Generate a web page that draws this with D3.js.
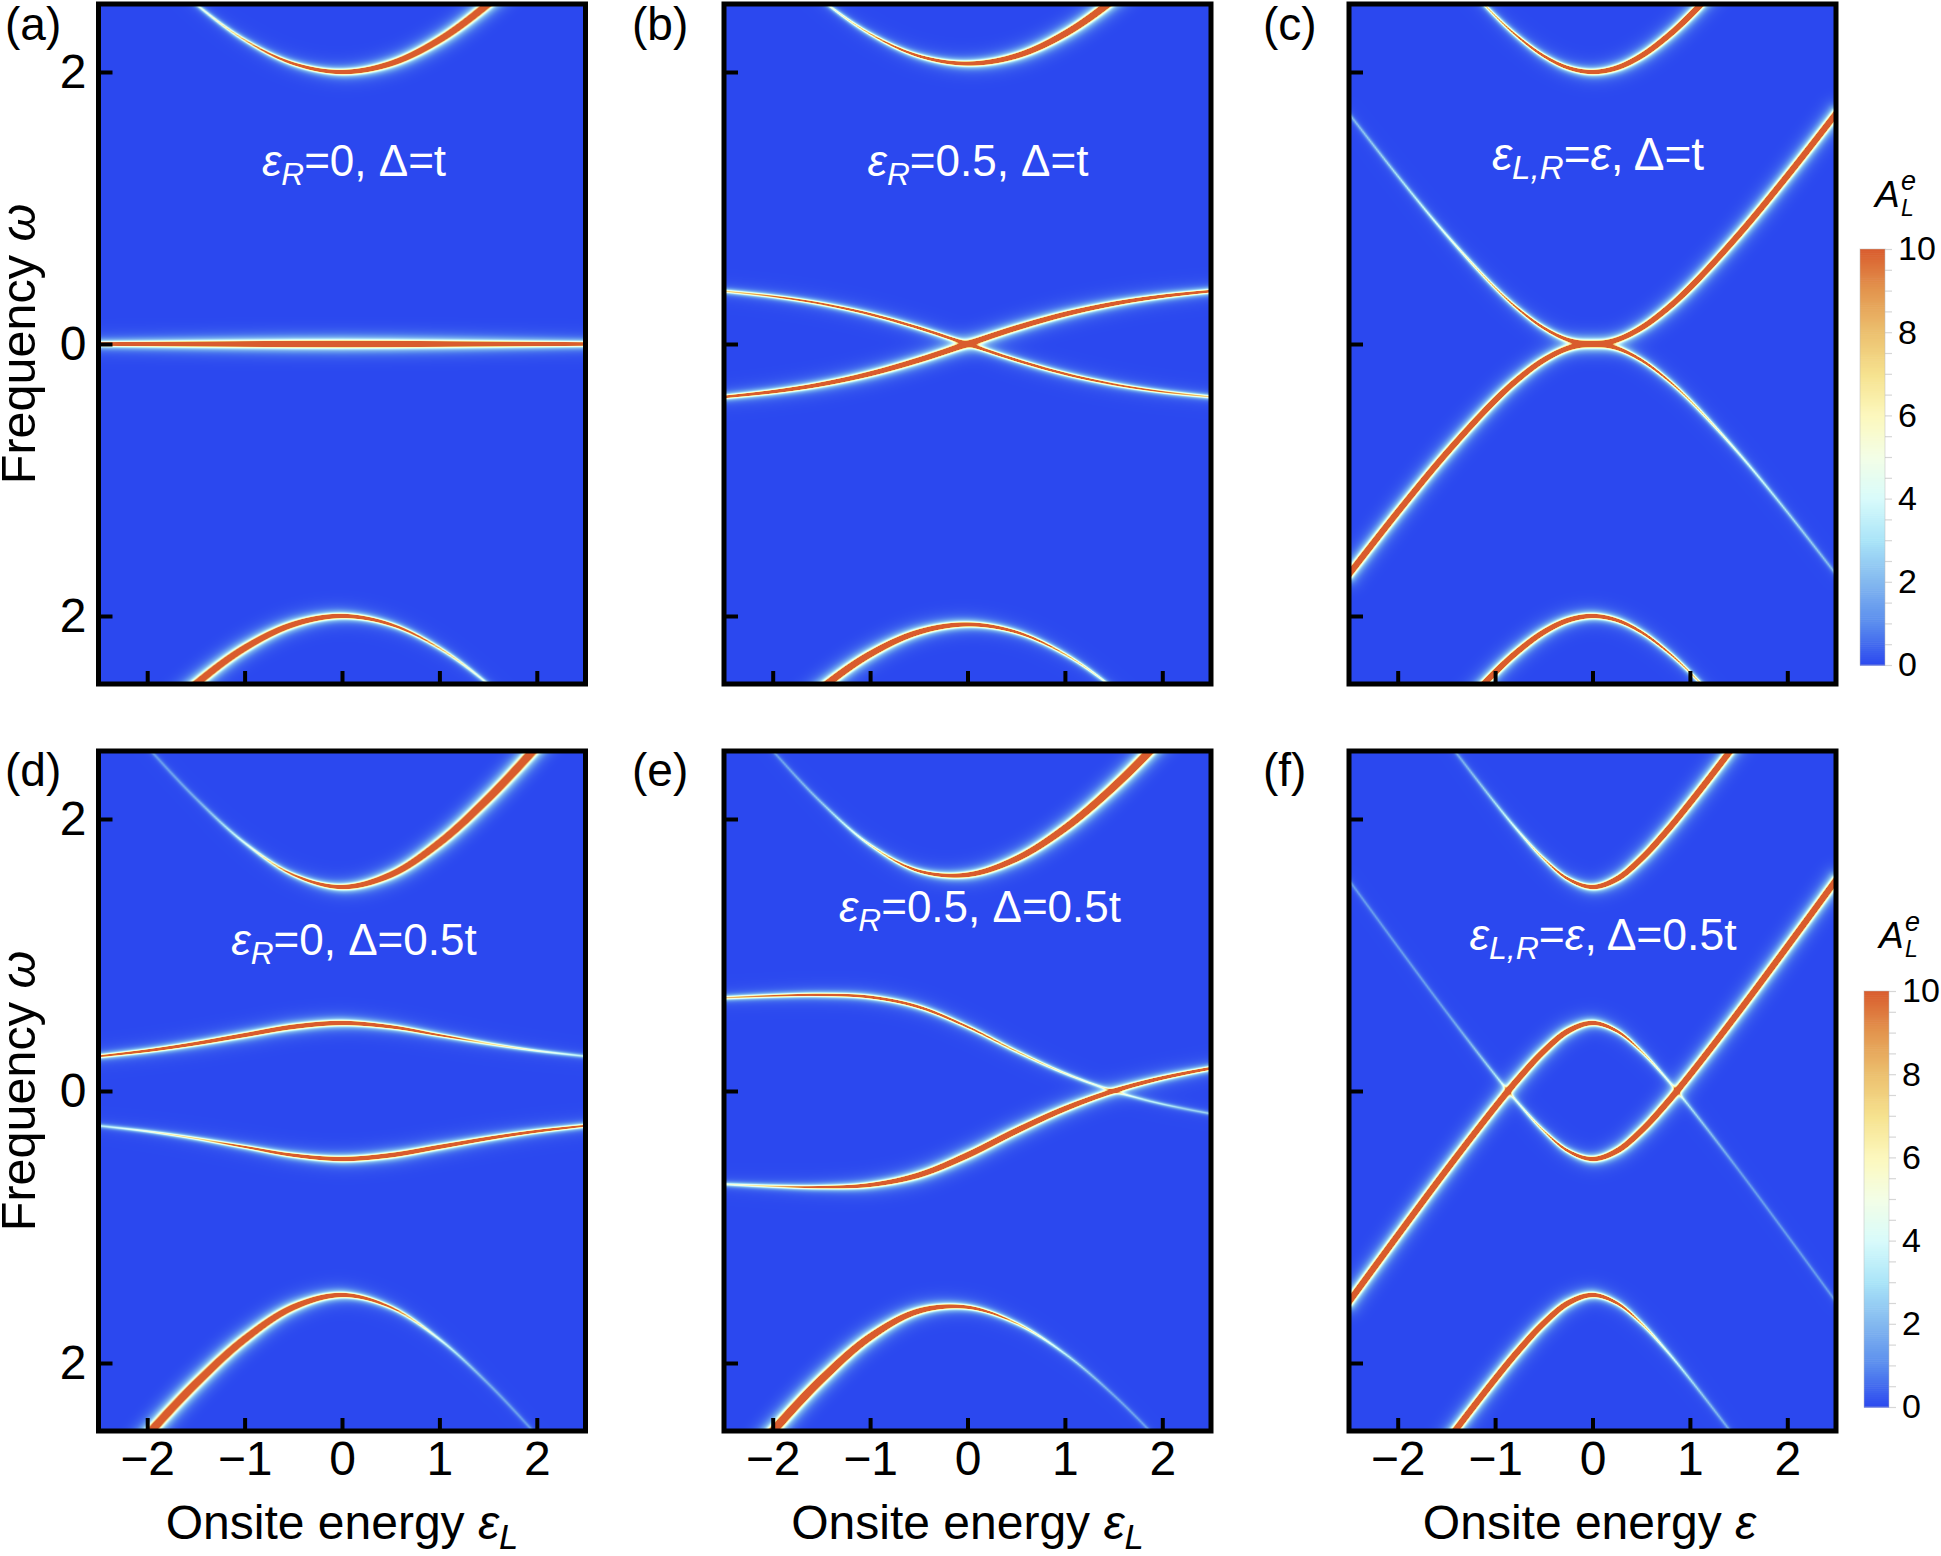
<!DOCTYPE html>
<html><head><meta charset="utf-8">
<script src="https://cdn.jsdelivr.net/npm/d3@7"></script>
<style>html,body{margin:0;padding:0;background:#fff}svg{display:block}text{font-family:"Liberation Sans",Arial,sans-serif}</style>
</head><body><svg id="chart" width="1941" height="1556"></svg>
<script>
// ---------- data ----------
const eps11 = [-2.5,-2,-1.5,-1,-0.5,0,0.5,1,1.5,2,2.5];
const eps15 = [-2.5,-2,-1.5,-1,-0.75,-0.5,-0.25,0,0.25,0.5,0.75,1,1.5,2,2.5];
// panel a
const aUpperW=[3.2,2.828,2.5,2.236,2.062,2,2.062,2.236,2.5,2.828,3.2];
const aUpperI=[.012,.0215,.04,.0764,.1434,.25,.386,.523,.64,.728,.793];
const aLowerW=[-3.2,-2.828,-2.5,-2.236,-2.062,-2,-2.062,-2.236,-2.5,-2.828,-3.2];
const aLowerI=[.793,.728,.64,.523,.386,.25,.1434,.0764,.04,.0215,.012];
const aMidW=[0,0,0,0,0,0,0,0,0,0,0];
const aMidI=[.195,.25,.32,.4,.47,.5,.47,.4,.32,.25,.195];
// panel b
const bUpperW=[3.217,2.851,2.532,2.281,2.118,2.062,2.118,2.281,2.532,2.851,3.217];
const bUpperI=[.0123,.0219,.0405,.0758,.138,.235,.362,.497,.6175,.712,.782];
const bLowerW=[-3.217,-2.851,-2.532,-2.281,-2.118,-2.062,-2.118,-2.281,-2.532,-2.851,-3.217];
const bLowerI=[.782,.712,.6175,.497,.362,.235,.138,.0758,.0405,.0219,.0123];
const bAW=[-.389,-.351,-.296,-.219,-.118,0,.118,.219,.296,.351,.389];
const bAI=[.134,.178,.236,.303,.362,.386,.362,.303,.236,.178,.134];
const bBW=[.389,.351,.296,.219,.118,0,-.118,-.219,-.296,-.351,-.389];
const bBI=[.0717,.0876,.106,.124,.138,.143,.138,.124,.106,.0876,.0717];
// panel c
const cUpperW=[3.693,3.236,2.803,2.414,2.25,2.118,2.031,2,2.031,2.118,2.25,2.414,2.803,3.236,3.693];
const cUpperI=[.018,.0265,.042,.073,.1,.138,.189,.25,.311,.362,.4,.427,.458,.4735,.482];
const cLowerW=[-3.693,-3.236,-2.803,-2.414,-2.25,-2.118,-2.031,-2,-2.031,-2.118,-2.25,-2.414,-2.803,-3.236,-3.693];
const cLowerI=[.482,.4735,.458,.427,.4,.362,.311,.25,.189,.138,.1,.073,.042,.0265,.018];
const cAW=[1.693,1.236,.803,.414,.25,.118,.031,0,.031,.118,.25,.414,.803,1.236,1.693];
const cAI=[.018,.0265,.042,.073,.1,.138,.189,.25,.311,.362,.4,.427,.458,.4735,.482];
const cBW=[-1.693,-1.236,-.803,-.414,-.25,-.118,-.031,0,-.031,-.118,-.25,-.414,-.803,-1.236,-1.693];
const cBI=[.482,.4735,.458,.427,.4,.362,.311,.25,.189,.138,.1,.073,.042,.0265,.018];
// panel d
const dUpperW=[2.947,2.532,2.151,1.825,1.59,1.5,1.59,1.825,2.151,2.532,2.947];
const dUpperI=[.012,.012,.0168,.0405,.1047,.25,.4495,.6175,.733,.808,.858];
const dLowerW=[-2.947,-2.532,-2.151,-1.825,-1.59,-1.5,-1.59,-1.825,-2.151,-2.532,-2.947];
const dLowerI=[.858,.808,.733,.6175,.4495,.25,.1047,.0405,.0168,.012,.012];
const dBW=[.255,.296,.349,.411,.472,.5,.472,.411,.349,.296,.255];
const dBI=[.1056,.139,.183,.236,.274,.25,.172,.106,.0672,.0452,.032];
const dAW=[-.255,-.296,-.349,-.411,-.472,-.5,-.472,-.411,-.349,-.296,-.255];
const dAI=[.032,.0452,.0672,.106,.172,.25,.274,.236,.183,.139,.1056];
// panel e
const eUpperW=[2.921,2.502,2.121,1.809,1.618,1.59,1.707,1.932,2.236,2.596,2.995];
const eUpperI=[.012,.012,.0215,.0553,.138,.274,.427,.569,.685,.771,.85];
const eLowerW=[-2.921,-2.502,-2.121,-1.809,-1.618,-1.59,-1.707,-1.932,-2.236,-2.596,-2.995];
const eLowerI=[.867,.816,.728,.579,.362,.172,.0733,.0318,.0147,.012,.012];
const eBW=[.685,.7,.707,.691,.618,.472,.293,.13,0,-.096,-.167];
const eBI=[.0795,.1,.125,.145,.138,.105,.0733,.052,.0383,.0288,.0218];
const eAW=[-.685,-.7,-.707,-.691,-.618,-.472,-.293,-.13,0,.096,.167];
const eAI=[.0485,.0748,.125,.221,.362,.449,.427,.347,.262,.193,.143];
// panel f
const fUpperW=[3.55,3.062,2.581,2.118,1.901,1.707,1.559,1.5,1.559,1.707,1.901,2.118,2.581,3.062,3.55];
const fUpperI=[.012,.012,.0128,.0265,.042,.073,.138,.25,.362,.427,.458,.4735,.487,.4925,.495];
const fLowerW=[-3.55,-3.062,-2.581,-2.118,-1.901,-1.707,-1.559,-1.5,-1.559,-1.707,-1.901,-2.118,-2.581,-3.062,-3.55];
const fLowerI=[.495,.4925,.487,.4735,.458,.427,.362,.25,.138,.073,.042,.0265,.0128,.012,.012];
const fAW=[1.55,1.062,.581,.118,-.099,-.293,-.441,-.5,-.441,-.293,-.099,.118,.581,1.062,1.55];
const fAI=[.012,.012,.0128,.0265,.042,.073,.138,.25,.362,.427,.458,.4735,.487,.4925,.495];
const fBW=[-1.55,-1.062,-.581,-.118,.099,.293,.441,.5,.441,.293,.099,-.118,-.581,-1.062,-1.55];
const fBI=[.495,.4925,.487,.4735,.458,.427,.362,.25,.138,.073,.042,.0265,.0128,.012,.012];
// ticks and colour bar
const xTicks=[-2,-1,0,1,2];
const yTicks=[-2,0,2];
const barTicks=[0,.5,1,1.5,2,2.5,3,3.5,4,4.5,5,5.5,6,6.5,7,7.5,8,8.5,9,9.5,10];
const barLabels=[0,2,4,6,8,10];
const colorStops=[0,1,2,3,4,5,6,7,8,9,10];
const colorValues=["#2b48ef","#5a8cee","#83b8ef","#aae4f8","#d8fbfb","#f3fee6","#fcf8bd","#f6e28f","#ecc06f","#e3964f","#d95c2d"];

const panels=[
 {id:"a",col:0,row:0,eps:eps11,bands:[[aUpperW,aUpperI],[aLowerW,aLowerI],[aMidW,aMidI]],note:[["ε","i"],["R","s"],["=0, Δ=t",""]],noteSize:44,noteX:354,noteY:176,xlab:null},
 {id:"b",col:1,row:0,eps:eps11,bands:[[bUpperW,bUpperI],[bLowerW,bLowerI],[bAW,bAI],[bBW,bBI]],note:[["ε","i"],["R","s"],["=0.5, Δ=t",""]],noteSize:44,noteX:978,noteY:176,xlab:null},
 {id:"c",col:2,row:0,eps:eps15,bands:[[cUpperW,cUpperI],[cLowerW,cLowerI],[cAW,cAI],[cBW,cBI]],note:[["ε","i"],["L,R","s"],["=",""],["ε","i"],[", Δ=t",""]],noteSize:46,noteX:1598,noteY:170,xlab:null},
 {id:"d",col:0,row:1,eps:eps11,bands:[[dUpperW,dUpperI],[dLowerW,dLowerI],[dAW,dAI],[dBW,dBI]],note:[["ε","i"],["R","s"],["=0, Δ=0.5t",""]],noteSize:44,noteX:354,noteY:955,xlab:[["Onsite energy ",""],["ε","i"],["L","s"]]},
 {id:"e",col:1,row:1,eps:eps11,bands:[[eUpperW,eUpperI],[eLowerW,eLowerI],[eAW,eAI],[eBW,eBI]],note:[["ε","i"],["R","s"],["=0.5, Δ=0.5t",""]],noteSize:44,noteX:980,noteY:922,xlab:[["Onsite energy ",""],["ε","i"],["L","s"]]},
 {id:"f",col:2,row:1,eps:eps15,bands:[[fUpperW,fUpperI],[fLowerW,fLowerI],[fAW,fAI],[fBW,fBI]],note:[["ε","i"],["L,R","s"],["=",""],["ε","i"],[", Δ=0.5t",""]],noteSize:44.5,noteX:1603,noteY:950,xlab:[["Onsite energy ",""],["ε","i"]]}
];

// ---------- layout ----------
const colLeft=[98.5,724,1349], panelW=487;
const rowTop=[4,751], panelH=680;
const K=115, gamma=1.3, R=30;

const svg=d3.select("#chart");
const lutScale=d3.scaleLinear().domain(colorStops).range(colorValues).clamp(true);
const lut=d3.range(1024).map(i=>d3.rgb(lutScale(i/1023*10)));

function richText(g,segs,size,opts={}){
  const t=g.append("text").attr("x",opts.x).attr("y",opts.y).attr("fill",opts.fill||"#000")
    .attr("font-size",size).attr("text-anchor",opts.anchor||"middle");
  if(opts.transform)t.attr("transform",opts.transform);
  let lowered=false;
  segs.forEach(([s,k])=>{
    const sp=t.append("tspan").text(s);
    if(k==="i")sp.attr("font-style","italic");
    if(k==="s"){sp.attr("font-style","italic").attr("font-size",size*.72).attr("dy",size*.2);lowered=true;}
    else if(lowered){sp.attr("dy",-size*.2);lowered=false;}
  });
  return t;
}

panels.forEach(p=>{
  const L=colLeft[p.col],T=rowTop[p.row];
  const x=d3.scaleLinear().domain([-2.5,2.5]).range([L,L+panelW]);
  const y=d3.scaleLinear().domain([-2.5,2.5]).range([T+panelH,T]);
  const W=panelW,H=panelH;
  const total=new Float32Array(W*H);
  const line=d3.line().x(d=>x(d[0])).y(d=>y(d[1])).curve(d3.curveCatmullRom.alpha(.5));
  p.bands.forEach(([om,inten])=>{
    const el=document.createElementNS("http://www.w3.org/2000/svg","path");
    el.setAttribute("d",line(p.eps.map((e,i)=>[e,om[i]])));
    const len=el.getTotalLength();
    const logW=d3.scaleLinear().domain(p.eps.map(e=>x(e))).range(inten.map(Math.log));
    const f=new Float32Array(W*H);
    for(let s=0;s<=len;s+=1){
      const pt=el.getPointAtLength(s);
      const px=pt.x-L,py=pt.y-T;
      if(px<-R||px>W+R||py<-R||py>H+R)continue;
      const a=K*Math.exp(logW(pt.x));
      const x0=Math.max(0,Math.floor(px-R)),x1=Math.min(W-1,Math.ceil(px+R));
      const y0=Math.max(0,Math.floor(py-R)),y1=Math.min(H-1,Math.ceil(py+R));
      for(let j=y0;j<=y1;j++){
        const dy=j+.5-py;
        for(let i=x0;i<=x1;i++){
          const dx=i+.5-px,d2=dx*dx+dy*dy;
          if(d2>=R*R)continue;
          const tp=1-d2/(R*R);
          const v=a*gamma*gamma/(d2+gamma*gamma)*tp*tp;
          const idx=j*W+i;
          if(v>f[idx])f[idx]=v;
        }
      }
    }
    for(let i=0;i<f.length;i++)total[i]+=f[i];
  });
  const cv=document.createElement("canvas");cv.width=W;cv.height=H;
  const ctx=cv.getContext("2d");const im=ctx.createImageData(W,H);
  for(let i=0;i<total.length;i++){
    const c=lut[Math.min(1023,Math.round(total[i]/10*1023))];
    im.data[4*i]=c.r;im.data[4*i+1]=c.g;im.data[4*i+2]=c.b;im.data[4*i+3]=255;
  }
  ctx.putImageData(im,0,0);
  const g=svg.append("g").attr("class","panel-"+p.id);
  g.append("image").attr("x",L).attr("y",T).attr("width",W).attr("height",H)
    .attr("href",cv.toDataURL()).style("image-rendering","auto");

  const xAxis=d3.axisBottom(x).tickValues(xTicks).tickSize(-13).tickPadding(10)
    .tickFormat(d=>d<0?"−"+Math.abs(d):String(d));
  const gx=g.append("g").attr("transform",`translate(0,${T+H})`).call(xAxis);
  const yAxis=d3.axisLeft(y).tickValues(yTicks).tickSize(-14).tickPadding(12)
    .tickFormat(d=>String(Math.abs(d)));
  const gy=g.append("g").attr("transform",`translate(${L},0)`).call(yAxis);
  [gx,gy].forEach(a=>{a.select(".domain").remove();
    a.selectAll("line").attr("stroke","#000").attr("stroke-width",4);
    a.selectAll("text").attr("font-size",48).attr("fill","#000").attr("font-family","Liberation Sans");});
  if(p.col>0)gy.selectAll("text").remove();
  if(p.row===0)gx.selectAll("text").remove();
  g.append("rect").attr("x",L).attr("y",T).attr("width",W).attr("height",H)
    .attr("fill","none").attr("stroke","#000").attr("stroke-width",5);

  richText(g,p.note,p.noteSize,{x:p.noteX,y:p.noteY,fill:"#fff"});
  if(p.xlab)richText(g,p.xlab,48,{x:x(0)+(p.col===2?-3:0),y:1539});
  svg.append("text").attr("x",[5,632,1263][p.col]).attr("y",[40,786][p.row]).attr("font-size",46).text(`(${p.id})`);
  if(p.col===0){
    const cy=y(0);
    richText(svg,[["Frequency ",""],["ω","i"]],48.5,{x:0,y:0,transform:`translate(35,${cy}) rotate(-90)`});
  }
});

// ---------- colour bars ----------
[{x:1860,top:249,bot:665,titleX:1875,titleY:207},{x:1864,top:991,bot:1407,titleX:1879,titleY:948}].forEach(b=>{
  const s=d3.scaleLinear().domain([0,10]).range([b.bot,b.top]);
  const colour=d3.scaleLinear().domain(colorStops).range(colorValues);
  const g=svg.append("g");
  const w=25;
  const cells=d3.range(0,10,.05);
  g.selectAll("rect").data(cells).join("rect")
    .attr("x",b.x).attr("width",w).attr("y",d=>s(d+.05)).attr("height",d=>s(d)-s(d+.05)+.6).attr("fill",d=>colour(d+.025));
  const ax=d3.axisRight(s).tickValues(barTicks).tickSize(7).tickPadding(6).tickFormat(d=>barLabels.includes(d)?String(d):"");
  const ga=g.append("g").attr("transform",`translate(${b.x+w},0)`).call(ax);
  ga.select(".domain").remove();
  ga.selectAll("line").attr("stroke","#d6d6d6").attr("stroke-width",1.2);
  ga.selectAll("text").attr("font-size",34).attr("fill","#000").attr("font-family","Liberation Sans");
  g.append("rect").attr("x",b.x).attr("y",b.top).attr("width",w).attr("height",b.bot-b.top)
    .attr("fill","none").attr("stroke","#bbb").attr("stroke-opacity",.5).attr("stroke-width",1);
  g.append("text").attr("x",b.titleX).attr("y",b.titleY).attr("font-size",37).attr("font-style","italic").text("A");
  g.append("text").attr("x",b.titleX+26).attr("y",b.titleY-17).attr("font-size",27).attr("font-style","italic").text("e");
  g.append("text").attr("x",b.titleX+26).attr("y",b.titleY+9).attr("font-size",23).attr("font-style","italic").text("L");
});
</script></body></html>
